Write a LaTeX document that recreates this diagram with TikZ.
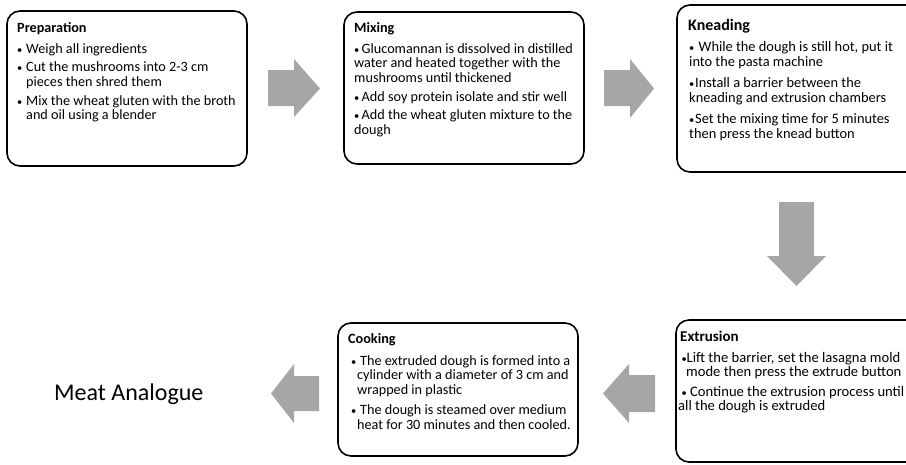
\documentclass[tikz,border=0pt]{standalone}
\usepackage{fontspec}
\setmainfont{Carlito}
\definecolor{arrowgray}{HTML}{A6A6A6}
\newcommand\smallbul{{\fontsize{10.5}{10.5}\selectfont\textbullet}}
\newcommand\bl[3]{\rule{0pt}{11pt}\hspace*{#1pt}\makebox[#2pt][l]{\smallbul}#3}
\newcommand\cl[2]{\rule{0pt}{11pt}\hspace*{#1pt}#2}
\tikzset{
  stepbox/.style={draw=black, line width=1.6pt, rounded corners=13pt, inner sep=0pt},
  ttl/.style={anchor=base west, inner sep=0pt, font=\bfseries\fontsize{14.2}{15}\selectfont},
  body/.style={anchor=north west, inner sep=0pt, align=left, font=\fontsize{14.2}{14.6}\selectfont},
  blockarrow/.style={fill=arrowgray, draw=none}
}
\begin{document}
\begin{tikzpicture}[x=1pt,y=-1pt]
\useasboundingbox (0,0) rectangle (906,464);
\clip (0,0) rectangle (906,464);
% boxes
\node[stepbox, minimum width=240pt, minimum height=155pt] (prep) at (127,88.5) {};
\node[stepbox, minimum width=240pt, minimum height=152pt] (mix) at (464,88) {};
\node[stepbox, minimum width=244pt, minimum height=167pt] (knead) at (799,88.5) {};
\node[stepbox, minimum width=245pt, minimum height=142pt] (extr) at (798.5,391) {};
\node[stepbox, minimum width=240pt, minimum height=133pt] (cook) at (458,389.5) {};
% titles
\node[ttl] (preptitle) at (17,32) {Preparation};
\node[ttl] (mixtitle) at (354,32) {Mixing};
\node[ttl, font=\bfseries\fontsize{16}{17}\selectfont] (kneadtitle) at (688,30) {Kneading};
\node[ttl, font=\bfseries\fontsize{15}{16}\selectfont] (extrtitle) at (680,341) {Extrusion};
\node[ttl] (cooktitle) at (348,343) {Cooking};
% bodies
\node[body] (prepbody) at (17,42) {%
\bl{0}{9}{Weigh all ingredients}\\[4pt]
\bl{0}{9}{Cut the mushrooms into 2-3 cm}\\
\cl{9}{pieces then shred them}\\[4pt]
\bl{0}{9}{Mix the wheat gluten with the broth}\\
\cl{9}{and oil using a blender}};
\node[body] (mixbody) at (354,42) {%
\bl{0}{7.5}{Glucomannan is dissolved in distilled}\\
\cl{0}{water and heated together with the}\\
\cl{0}{mushrooms until thickened}\\[4pt]
\bl{0}{7.5}{Add soy protein isolate and stir well}\\[4pt]
\bl{0}{7.5}{Add the wheat gluten mixture to the}\\
\cl{0}{dough}};
\node[body, font=\fontsize{14.4}{15}\selectfont] (kneadbody) at (688,40) {%
\bl{1}{9.5}{While the dough is still hot, put it}\\
\cl{1}{into the pasta machine}\\[6pt]
\bl{1}{6}{Install a barrier between the}\\
\cl{1}{kneading and extrusion chambers}\\[6pt]
\bl{1}{6}{Set the mixing time for 5 minutes}\\
\cl{1}{then press the knead button}};
\node[body, font=\fontsize{14.6}{14.2}\selectfont] (extrbody) at (678,351) {%
\bl{3.5}{5}{Lift the barrier, set the lasagna mold}\\
\cl{8}{mode then press the extrude button}\\[6pt]
\bl{3.5}{8.5}{Continue the extrusion process until}\\
\cl{0}{all the dough is extruded}};
\node[body] (cookbody) at (351,354) {%
\bl{0}{9}{The extruded dough is formed into a}\\
\cl{6}{cylinder with a diameter of 3 cm and}\\
\cl{6}{wrapped in plastic}\\[5.5pt]
\bl{0}{9}{The dough is steamed over medium}\\
\cl{6}{heat for 30 minutes and then cooled.}};
% final product
\node[anchor=base west, inner sep=0pt, font=\fontsize{24}{28}\selectfont] (meat) at (54,400) {Meat Analogue};
% block arrows
\fill[blockarrow] (268,70) -- (294,70) -- (294,59) -- (320,88.5) -- (294,117) -- (294,106) -- (268,106) -- cycle;
\fill[blockarrow] (604,70) -- (630,70) -- (630,59) -- (654,88.5) -- (630,118) -- (630,106) -- (604,106) -- cycle;
\fill[blockarrow] (779,202) -- (814,202) -- (814,256) -- (826,256) -- (796.5,286) -- (767,256) -- (779,256) -- cycle;
\fill[blockarrow] (655,375) -- (629,375) -- (629,364) -- (603,393.5) -- (629,423) -- (629,412) -- (655,412) -- cycle;
\fill[blockarrow] (319,376) -- (294,376) -- (294,364) -- (271,393.5) -- (294,423) -- (294,411) -- (319,411) -- cycle;
\end{tikzpicture}
\end{document}
